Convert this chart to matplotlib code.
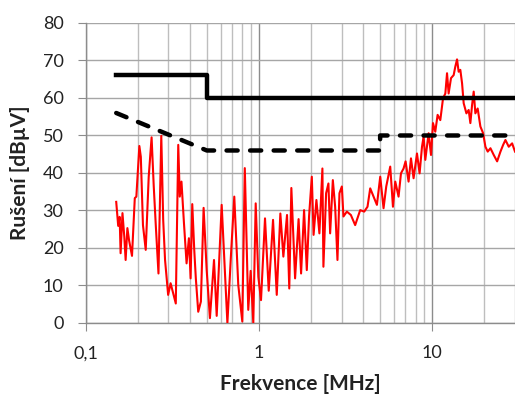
import matplotlib
matplotlib.use('Agg')
import matplotlib.pyplot as plt
from matplotlib.ticker import FixedLocator, NullFormatter

plt.rcParams['font.family'] = ['Lato', 'DejaVu Sans']

# ==========================================
# Data: limit lines (MHz, dBuV)
# ==========================================
qp_f = [0.15, 0.5, 0.5, 30]
qp_lim = [66, 66, 60, 60]

avg_f = [0.15, 0.5, 5, 5, 30]
avg_lim = [56, 46, 46, 50, 50]

meas_f = [0.150, 0.154, 0.157, 0.159, 0.163, 0.167, 0.170, 0.174, 0.178, 0.185,
          0.192, 0.196, 0.204, 0.208, 0.214, 0.222, 0.231, 0.240, 0.247, 0.254,
          0.263, 0.273, 0.280, 0.287, 0.299, 0.309, 0.320, 0.331, 0.342, 0.349,
          0.357, 0.369, 0.382, 0.394, 0.403, 0.412, 0.423, 0.432, 0.446, 0.462,
          0.479, 0.499, 0.521, 0.550, 0.570, 0.609, 0.657, 0.689, 0.720, 0.759,
          0.801, 0.828, 0.867, 0.895, 0.927, 0.957, 0.991, 1.027, 1.083, 1.138,
          1.205, 1.266, 1.328, 1.382, 1.451, 1.495, 1.537, 1.615, 1.692, 1.749,
          1.820, 1.887, 1.945, 2.017, 2.065, 2.144, 2.231, 2.322, 2.353, 2.439,
          2.515, 2.573, 2.667, 2.750, 2.836, 2.912, 3.006, 3.071, 3.213, 3.389,
          3.588, 3.836, 4.046, 4.227, 4.382, 4.578, 4.790, 5.006, 5.231, 5.422,
          5.718, 5.928, 6.112, 6.387, 6.594, 6.826, 7.011, 7.295, 7.532, 7.797,
          8.158, 8.445, 8.719, 8.906, 9.110, 9.519, 9.828, 10.09, 10.40, 10.73,
          11.12, 11.53, 11.89, 12.16, 12.42, 12.82, 13.28, 13.58, 13.89, 14.19,
          14.51, 14.85, 15.17, 15.73, 16.21, 16.58, 16.96, 17.33, 17.72, 18.27,
          18.94, 19.64, 20.25, 20.88, 21.65, 22.62, 23.66, 24.73, 25.63, 26.42,
          27.61, 28.88, 30.0]
meas_db = [32.3, 25.9, 28.3, 18.6, 29.3, 23.0, 16.8, 25.3, 22.0, 17.9,
           33.3, 33.7, 47.2, 44.3, 26.1, 19.5, 39.0, 49.5, 36.4, 25.7,
           13.2, 49.9, 27.5, 16.8, 7.5, 10.6, 7.9, 5.2, 47.5, 33.7,
           37.7, 26.6, 15.9, 22.6, 11.9, 31.7, 19.5, 11.9, 3.0, 5.7,
           30.7, 14.1, 1.3, 16.8, 1.9, 31.5, 0.0, 18.1, 33.7, 10.2,
           0.4, 41.3, 3.5, 13.9, 0.0, 31.9, 12.3, 6.1, 27.9, 8.6,
           27.5, 7.5, 29.2, 17.7, 28.8, 9.2, 36.0, 11.9, 27.7, 13.2,
           30.1, 14.1, 28.5, 39.0, 23.5, 32.8, 23.9, 41.2, 15.0, 34.6,
           37.2, 23.9, 38.1, 31.0, 16.8, 34.6, 36.4, 28.4, 29.7, 28.8,
           26.1, 30.1, 29.7, 31.0, 35.9, 33.7, 31.5, 39.0, 30.6, 36.4,
           41.7, 31.0, 37.7, 33.7, 39.9, 41.2, 43.1, 37.7, 43.9, 38.6,
           45.2, 39.9, 47.0, 49.7, 43.5, 50.6, 44.8, 53.3, 51.0, 55.5,
           54.1, 59.9, 61.2, 66.6, 61.2, 65.3, 66.1, 68.4, 70.3, 67.0,
           67.5, 63.9, 58.6, 55.9, 56.8, 53.3, 58.1, 61.7, 55.9, 57.2,
           52.4, 50.6, 47.0, 45.7, 46.6, 44.8, 43.1, 45.7, 47.5, 48.8,
           47.0, 47.9, 45.7]

x_ticks = [0.1, 1, 10]
x_ticklabels = ['0,1', '1', '10']
y_ticks = [0, 10, 20, 30, 40, 50, 60, 70, 80]

# ==========================================
# Plot
# ==========================================
fig = plt.figure(figsize=(5.15, 3.99), dpi=100)
ax = fig.add_axes([0.1664, 0.1905, 0.8336, 0.7519])

ax.plot(meas_f, meas_db, color='#FF0000', linewidth=1.5, zorder=3)
ax.plot(qp_f, qp_lim, color='black', linewidth=3.2, zorder=4)
ax.plot(avg_f, avg_lim, color='black', linewidth=3.2, zorder=4,
        linestyle=(0, (2.5, 2.8)), dash_capstyle='round')

ax.set_xscale('log')
ax.set_xlim(0.1, 30)
ax.set_ylim(0, 80)

ax.xaxis.set_major_locator(FixedLocator(x_ticks))
ax.set_xticklabels(x_ticklabels)
ax.xaxis.set_minor_locator(FixedLocator([0.2, 0.3, 0.4, 0.5, 0.6, 0.7, 0.8, 0.9,
                                         2, 3, 4, 5, 6, 7, 8, 9, 20, 30]))
ax.xaxis.set_minor_formatter(NullFormatter())
ax.set_yticks(y_ticks)

ax.grid(True, which='major', axis='x', color='#8C8C8C', linewidth=1.0)
ax.grid(True, which='minor', axis='x', color='#BEBEBE', linewidth=1.0)
ax.grid(True, which='major', axis='y', color='#A6A6A6', linewidth=1.0)
ax.set_axisbelow(True)

ax.tick_params(axis='both', which='major', direction='out', length=5.5,
               color='#8C8C8C', labelsize=13, labelcolor='#222222', pad=10.5)
ax.tick_params(axis='x', which='minor', length=0)

for s in ['top', 'right']:
    ax.spines[s].set_visible(False)
for s in ['left', 'bottom']:
    ax.spines[s].set_color('#8C8C8C')
    ax.spines[s].set_linewidth(1.0)

ax.set_xlabel('Frekvence [MHz]', fontsize=15, fontweight='bold', color='#222222', labelpad=9)
ax.set_ylabel('Rušení [dBµV]', fontsize=15, fontweight='bold', color='#222222', labelpad=9)

fig.savefig('out.png', dpi=100)
